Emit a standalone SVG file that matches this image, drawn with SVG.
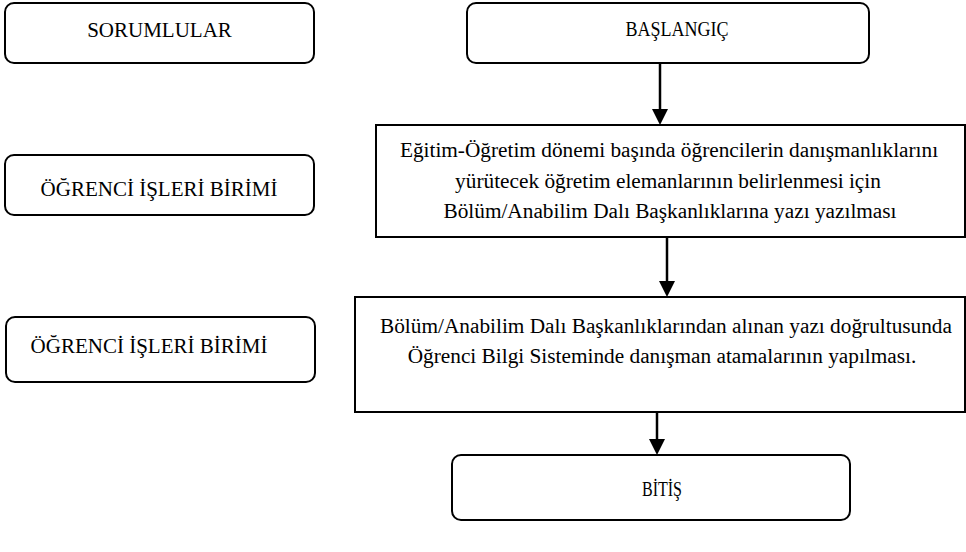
<svg xmlns="http://www.w3.org/2000/svg" width="966" height="552" viewBox="0 0 966 552">
<style>
.box{fill:#fff;stroke:#000;stroke-width:2}
.t{font-family:"Liberation Serif","Times New Roman",serif;font-size:21px;fill:#000;text-anchor:middle}
.p{font-size:21.3px}
.c{stroke:#000;stroke-width:2.5;fill:none}
</style>
<rect width="966" height="552" fill="#fff"/>
<g id="sorumlular">
<rect class="box" x="5" y="3" width="309" height="60" rx="9"/>
<text class="t" x="159.5" y="37">SORUMLULAR</text>
</g>
<g id="baslangic">
<rect class="box" x="467" y="3" width="402" height="60" rx="9"/>
<text class="t" x="677" y="36" style="font-size:20px" textLength="103" lengthAdjust="spacingAndGlyphs">BA&#x15E;LANGI&#xC7;</text>
</g>
<g id="sorumlu1">
<rect class="box" x="5" y="155" width="309" height="60" rx="9"/>
<text class="t" x="159" y="196">&#xD6;&#x11E;RENC&#x130; &#x130;&#x15E;LER&#x130; B&#x130;R&#x130;M&#x130;</text>
</g>
<g id="sorumlu2">
<rect class="box" x="6" y="317" width="309" height="65" rx="9"/>
<text class="t" x="149" y="353">&#xD6;&#x11E;RENC&#x130; &#x130;&#x15E;LER&#x130; B&#x130;R&#x130;M&#x130;</text>
</g>
<g id="islem1">
<rect class="box" x="376" y="125" width="589" height="112"/>
<text class="t p" x="669" y="157">E&#x11F;itim-&#xD6;&#x11F;retim d&#xF6;nemi ba&#x15F;&#x131;nda &#xF6;&#x11F;rencilerin dan&#x131;&#x15F;manl&#x131;klar&#x131;n&#x131;</text>
<text class="t p" x="668" y="188">y&#xFC;r&#xFC;tecek &#xF6;&#x11F;retim elemanlar&#x131;n&#x131;n belirlenmesi i&#xE7;in</text>
<text class="t p" x="670" y="218">B&#xF6;l&#xFC;m/Anabilim Dal&#x131; Ba&#x15F;kanl&#x131;klar&#x131;na yaz&#x131; yaz&#x131;lmas&#x131;</text>
</g>
<g id="islem2">
<rect class="box" x="355" y="297" width="610" height="115"/>
<text class="t p" x="666" y="333">B&#xF6;l&#xFC;m/Anabilim Dal&#x131; Ba&#x15F;kanl&#x131;klar&#x131;ndan al&#x131;nan yaz&#x131; do&#x11F;rultusunda</text>
<text class="t p" x="662" y="363">&#xD6;&#x11F;renci Bilgi Sisteminde dan&#x131;&#x15F;man atamalar&#x131;n&#x131;n yap&#x131;lmas&#x131;.</text>
</g>
<g id="bitis">
<rect class="box" x="452" y="455" width="398" height="65" rx="9"/>
<text class="t" x="662" y="496" style="font-size:20px" textLength="40" lengthAdjust="spacingAndGlyphs">B&#x130;T&#x130;&#x15E;</text>
</g>
<g id="connectors">
<line class="c" x1="660" y1="63" x2="660" y2="109"/>
<path d="M652,109 L668,109 L660,125 Z" fill="#000"/>
<line class="c" x1="667" y1="237" x2="667" y2="281"/>
<path d="M659,281 L675,281 L667,297 Z" fill="#000"/>
<line class="c" x1="657" y1="412" x2="657" y2="439"/>
<path d="M649,439 L665,439 L657,455 Z" fill="#000"/>
</g>
</svg>
